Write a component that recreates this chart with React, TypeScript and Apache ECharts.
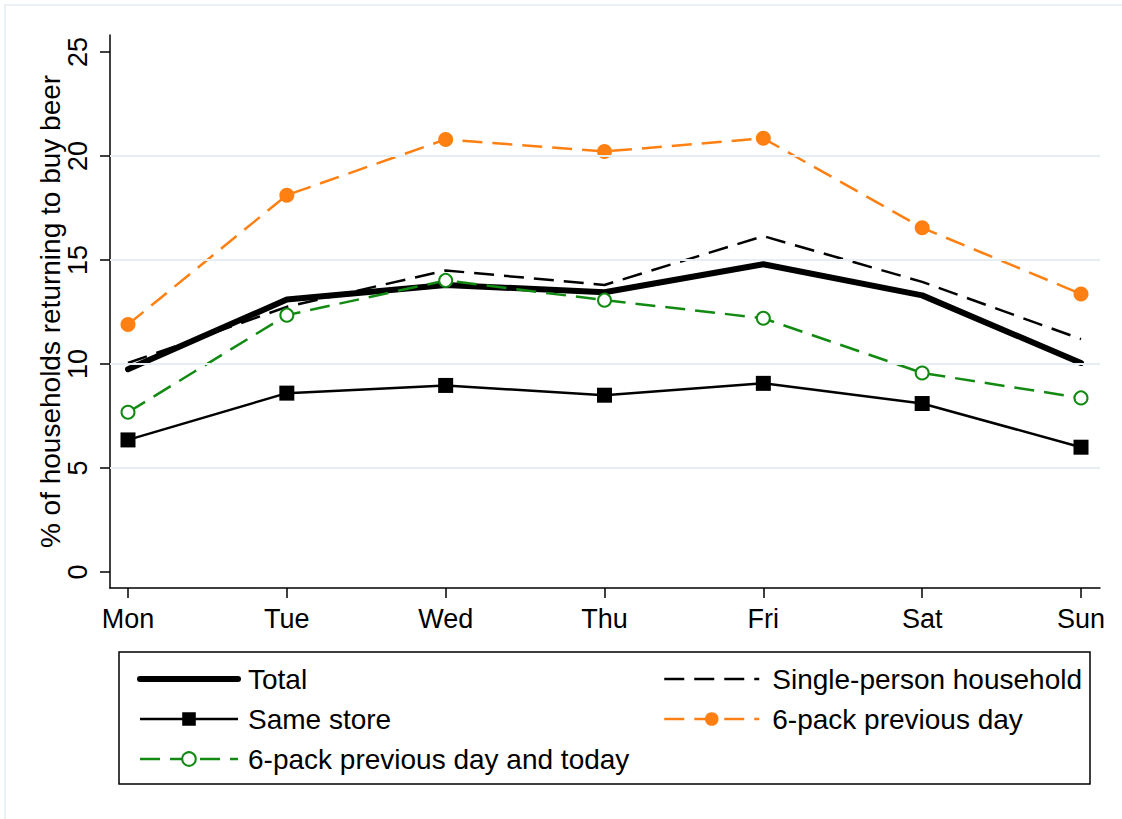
import React, { useEffect, useRef } from "react";
import * as echarts from "echarts";

const days = ["Mon", "Tue", "Wed", "Thu", "Fri", "Sat", "Sun"];
const yTicks = [0, 5, 10, 15, 20, 25];
const gridValues = [5, 10, 15, 20];
const total = [9.75, 13.1, 13.8, 13.45, 14.8, 13.3, 10.05];
const singlePerson = [10.05, 12.75, 14.5, 13.8, 16.15, 13.95, 11.2];
const sameStore = [6.35, 8.6, 8.97, 8.5, 9.07, 8.1, 6.0];
const sixPackPrev = [11.9, 18.12, 20.8, 20.22, 20.85, 16.55, 13.37];
const sixPackPrevToday = [7.68, 12.35, 14.02, 13.07, 12.2, 9.57, 8.37];

const FONT = "'Liberation Sans', Arial, Helvetica, sans-serif";
const ORANGE = "#ff8012";
const GREEN = "#128a12";

const pairs = (arr: number[]) => arr.map((v, i) => [i, v]);

export default function App() {
  const ref = useRef<HTMLDivElement>(null);
  useEffect(() => {
    if (!ref.current) return;
    const chart = echarts.init(ref.current, null, { renderer: "svg" });
    const option: any = {
      animation: false,
      backgroundColor: "#ffffff",
      textStyle: { fontFamily: FONT },
      grid: { left: 110, right: 22, top: 35, bottom: 231 },
      xAxis: {
        type: "value",
        min: -0.1133,
        max: 6.1196,
        axisLine: { show: true, onZero: false, lineStyle: { color: "#000", width: 1.5 } },
        axisTick: { show: true, length: 10, customValues: days.map((_, i) => i), lineStyle: { color: "#000", width: 1.5 } },
        axisLabel: {
          customValues: days.map((_, i) => i),
          formatter: (v: number) => days[Math.round(v)] ?? "",
          color: "#000",
          fontSize: 27,
          fontFamily: FONT,
          margin: 17,
        },
        splitLine: { show: false },
      },
      yAxis: {
        type: "value",
        min: -0.77,
        max: 25.82,
        name: "% of households returning to buy beer",
        nameLocation: "middle",
        nameGap: 46,
        nameMoveOverlap: false,
        nameTextStyle: { color: "#000", fontSize: 28, fontFamily: FONT },
        axisLine: { show: true, onZero: false, lineStyle: { color: "#000", width: 1.5 } },
        axisTick: { show: true, length: 10, customValues: yTicks, lineStyle: { color: "#000", width: 1.5 } },
        axisLabel: {
          customValues: yTicks,
          rotate: 90,
          color: "#000",
          fontSize: 27,
          fontFamily: FONT,
          margin: 19,
        },
        splitLine: { show: false },
      },
      legend: [
        {
          left: 132,
          top: 660,
          orient: "vertical",
          itemWidth: 98,
          itemHeight: 17,
          itemGap: 12,
          selectedMode: false,
          textStyle: { color: "#000", fontSize: 28, fontFamily: FONT, lineHeight: 28, padding: [0, 0, 0, 5] },
          data: [
            { name: "Total", itemStyle: { opacity: 0 }, lineStyle: { width: 6 } },
            { name: "Same store", lineStyle: { width: 2.5 } },
            { name: "6-pack previous day and today", lineStyle: { width: 2.5 } },
          ],
        },
        {
          left: 658,
          top: 660,
          orient: "vertical",
          itemWidth: 95,
          itemHeight: 17,
          itemGap: 12,
          selectedMode: false,
          textStyle: { color: "#000", fontSize: 28, fontFamily: FONT, lineHeight: 28, padding: [0, 0, 0, 8] },
          data: [
            { name: "Single-person household", itemStyle: { opacity: 0 }, lineStyle: { width: 2.5 } },
            { name: "6-pack previous day", lineStyle: { width: 2.5 } },
          ],
        },
      ],
      graphic: [
        {
          type: "rect",
          shape: { x: 5, y: 5, width: 1130, height: 830 },
          style: { fill: "none", stroke: "#e3ecef", lineWidth: 1.5 },
          silent: true,
          z: -10,
        },
        {
          type: "rect",
          shape: { x: 119, y: 652, width: 971, height: 132 },
          style: { fill: "none", stroke: "#000", lineWidth: 1.5 },
          silent: true,
        },
      ],
      series: [
        {
          name: "_grid",
          type: "line",
          data: [],
          z: 1,
          silent: true,
          markLine: {
            silent: true,
            symbol: ["none", "none"],
            label: { show: false },
            lineStyle: { color: "#e6eef1", width: 2, type: "solid" },
            data: gridValues.map((v) => ({ yAxis: v })),
          },
        },
        {
          name: "Total",
          type: "line",
          data: pairs(total),
          symbol: "none",
          z: 2,
          lineStyle: { color: "#000", width: 6, cap: "round", join: "round" },
          itemStyle: { color: "#000" },
        },
        {
          name: "Single-person household",
          type: "line",
          data: pairs(singlePerson),
          symbol: "none",
          z: 2,
          lineStyle: { color: "#000", width: 2.5, type: [20, 10] },
          itemStyle: { color: "#000" },
        },
        {
          name: "Same store",
          type: "line",
          data: pairs(sameStore),
          symbol: "rect",
          symbolSize: 15,
          z: 2,
          lineStyle: { color: "#000", width: 2.5 },
          itemStyle: { color: "#000" },
        },
        {
          name: "6-pack previous day",
          type: "line",
          data: pairs(sixPackPrev),
          symbol: "circle",
          symbolSize: 15,
          z: 2,
          lineStyle: { color: ORANGE, width: 2.5, type: [20, 10] },
          itemStyle: { color: ORANGE },
        },
        {
          name: "6-pack previous day and today",
          type: "line",
          data: pairs(sixPackPrevToday),
          symbol: "emptyCircle",
          symbolSize: 13,
          z: 2,
          lineStyle: { color: GREEN, width: 2.5, type: [20, 10] },
          itemStyle: { color: GREEN, borderWidth: 2.5, borderColor: GREEN },
        },
      ],
    };
    chart.setOption(option);
    return () => chart.dispose();
  }, []);
  return (
    <div
      ref={ref}
      style={{ position: "fixed", left: 0, top: 0, width: 1122, height: 819, background: "#fff" }}
    />
  );
}
